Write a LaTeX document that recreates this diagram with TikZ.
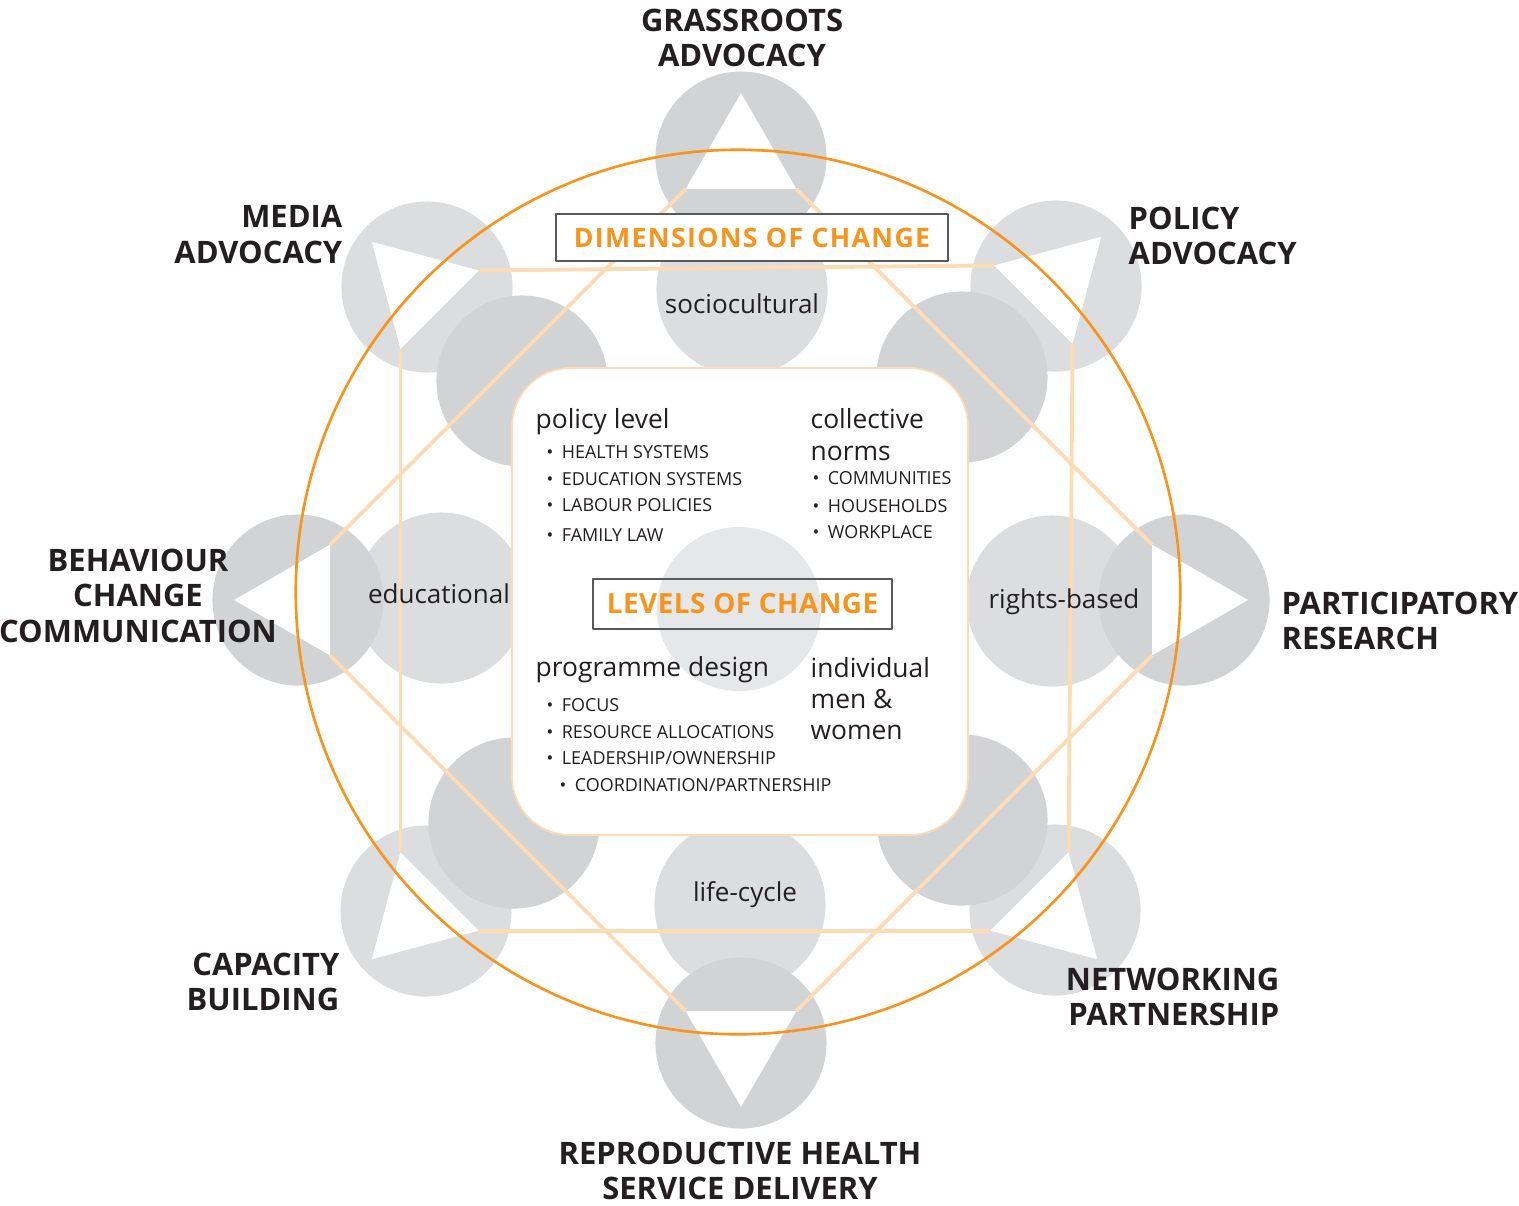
\documentclass[tikz,border=0pt]{standalone}
\usepackage{fontspec}
\setmainfont{Open Sans}
\usetikzlibrary{calc}

\definecolor{gdark}{HTML}{D1D3D4}
\definecolor{glight}{HTML}{DCDDDE}
\definecolor{gpale}{HTML}{E6E7E8}
\definecolor{corange}{HTML}{F7941D}
\definecolor{peach}{HTML}{FDDCB5}
\definecolor{ink}{HTML}{231F20}
\definecolor{frame}{HTML}{58595B}

\tikzset{
  disc/.style={circle, inner sep=0pt, minimum size=1.71cm},
  lbl/.style={font=\fontsize{8.8}{10.1}\selectfont\bfseries, text=ink, inner sep=0pt},
  dimlbl/.style={font=\fontsize{7.4}{9}\selectfont, text=ink, inner sep=0pt},
  head/.style={font=\fontsize{7.5}{9}\selectfont, text=ink, inner sep=0pt},
  item/.style={font=\fontsize{5.1}{7}\selectfont, text=ink, inner sep=0pt},
  tag/.style={draw=frame, line width=0.45pt, inner sep=0pt, text=corange},
  spoke/.style={peach, line width=1.1pt},
}

\begin{document}
\begin{tikzpicture}[x=0.01cm, y=-0.01cm, line join=round]
\useasboundingbox (0,0) rectangle (1519,1205);

% light discs first
\node[disc, fill=glight] (media) at (427,287) {};
\node[disc, fill=glight] (policy) at (1056,286) {};
\node[disc, fill=glight] (network) at (1055,910) {};
\node[disc, fill=glight] (capacity) at (426,911) {};
\node[disc, fill=glight] (socio) at (742,290) {};
\node[disc, fill=glight] (edu) at (441,598) {};
\node[disc, fill=glight] (rights) at (1052,601) {};
\node[disc, fill=glight] (life) at (740,905) {};

% dark discs on top
\node[disc, fill=gdark] (tl) at (522,381) {};
\node[disc, fill=gdark] (tr) at (962,377) {};
\node[disc, fill=gdark] (br) at (962,820) {};
\node[disc, fill=gdark] (bl) at (514,823) {};
\node[disc, fill=gdark] (grass) at (741,157) {};
\node[disc, fill=gdark] (behav) at (298,600) {};
\node[disc, fill=gdark] (partic) at (1184,600) {};
\node[disc, fill=gdark] (repro) at (741,1043) {};

% white arrows pointing out
\foreach \n/\a/\dx/\dy in {grass/-90/0/0, policy/-45/0/-4, partic/0/0/0, network/45/-3/4,
    repro/90/0/0, capacity/135/-9/3, behav/180/0/0, media/-135/-10/0}{
  \coordinate (\n-c) at ($(\n)+(\dx,\dy)$);
  \coordinate (\n-tip) at ($(\n-c)+(\a:64)$);
  \coordinate (\n-a) at ($(\n-c)+(\a+120:64)$);
  \coordinate (\n-b) at ($(\n-c)+(\a-120:64)$);
  \fill[white] (\n-tip) -- (\n-a) -- (\n-b) -- cycle;
}

% square and diamond
\draw[spoke] (media-a) -- (policy-b);
\draw[spoke] (policy-a) -- (network-b);
\draw[spoke] (network-a) -- (capacity-b);
\draw[spoke] (capacity-a) -- (media-b);
\draw[spoke] (grass-b) -- (behav-a);
\draw[spoke] (behav-b) -- (repro-a);
\draw[spoke] (repro-b) -- (partic-a);
\draw[spoke] (partic-b) -- (grass-a);

\coordinate (hub) at (738,592);
\draw[corange, line width=0.75pt] (hub) circle (4.42cm);

% centre panel
\draw[peach, line width=0.5pt, fill=white, rounded corners=0.58cm] (512,368) rectangle (968,835);
\node[disc, fill=gpale, minimum size=1.64cm] (core) at (739,609) {};

% dimensions
\node[dimlbl, anchor=base] (socio-t) at (742,313) {sociocultural};
\node[dimlbl, anchor=base] (edu-t) at (439,603) {educational};
\node[dimlbl, anchor=base] (rights-t) at (1064,608) {rights-based};
\node[dimlbl, anchor=base] (life-t) at (745,901) {life-cycle};

% levels
\node[head, anchor=base west] (pol) at (535,428) {policy level};
\node[head, anchor=base west] (coll) at (810,428) {collective};
\node[head, anchor=base west] (norms) at (810,460) {norms};
\node[head, anchor=base west] (prog) at (535,676) {programme design};
\node[head, anchor=base west] (indiv) at (810,677) {individual};
\node[head, anchor=base west] (men) at (810,708) {men \&};
\node[head, anchor=base west] (women) at (810,739) {women};

\foreach \t/\x/\y [count=\i] in {HEALTH SYSTEMS/546/458, EDUCATION SYSTEMS/546/485,
    LABOUR POLICIES/546/511, FAMILY LAW/546/541,
    COMMUNITIES/812/484, HOUSEHOLDS/812/512, WORKPLACE/812/538,
    FOCUS/546/711, RESOURCE ALLOCATIONS/546/738,
    LEADERSHIP\slash OWNERSHIP/546/764, COORDINATION\slash PARTNERSHIP/559/791}
  \node[item, anchor=base west] (it\i) at (\x,\y) {\textbullet\hspace{2.4pt}\t};

% strategies
\node[lbl, align=center, anchor=north] (grass-t) at (742,8) {GRASSROOTS\\ADVOCACY};
\node[lbl, align=right, anchor=north east] (media-t) at (343,205) {MEDIA\\ADVOCACY};
\node[lbl, align=left, anchor=north west] (policy-t) at (1128,206) {POLICY\\ADVOCACY};
\node[lbl, align=center, anchor=north] (behav-t) at (138,548) {BEHAVIOUR\\CHANGE\\COMMUNICATION};
\node[lbl, align=left, anchor=north west] (partic-t) at (1281,591) {PARTICIPATORY\\RESEARCH};
\node[lbl, align=right, anchor=north east] (capacity-t) at (340,952) {CAPACITY\\BUILDING};
\node[lbl, align=right, anchor=north east] (network-t) at (1280,967) {NETWORKING\\PARTNERSHIP};
\node[lbl, align=center, anchor=north] (repro-t) at (740,1141) {REPRODUCTIVE HEALTH\\SERVICE DELIVERY};

% headings
\node[tag, fill=white, minimum width=3.92cm, minimum height=0.47cm,
  font=\fontsize{7.6}{9}\selectfont\bfseries\addfontfeature{LetterSpace=5}] (dims) at (752,237.5) {DIMENSIONS OF CHANGE};
\node[tag, minimum width=2.99cm, minimum height=0.5cm,
  font=\fontsize{7.9}{9}\selectfont\bfseries\addfontfeature{LetterSpace=2}] (levels) at (742.5,604) {LEVELS OF CHANGE};

\end{tikzpicture}
\end{document}
